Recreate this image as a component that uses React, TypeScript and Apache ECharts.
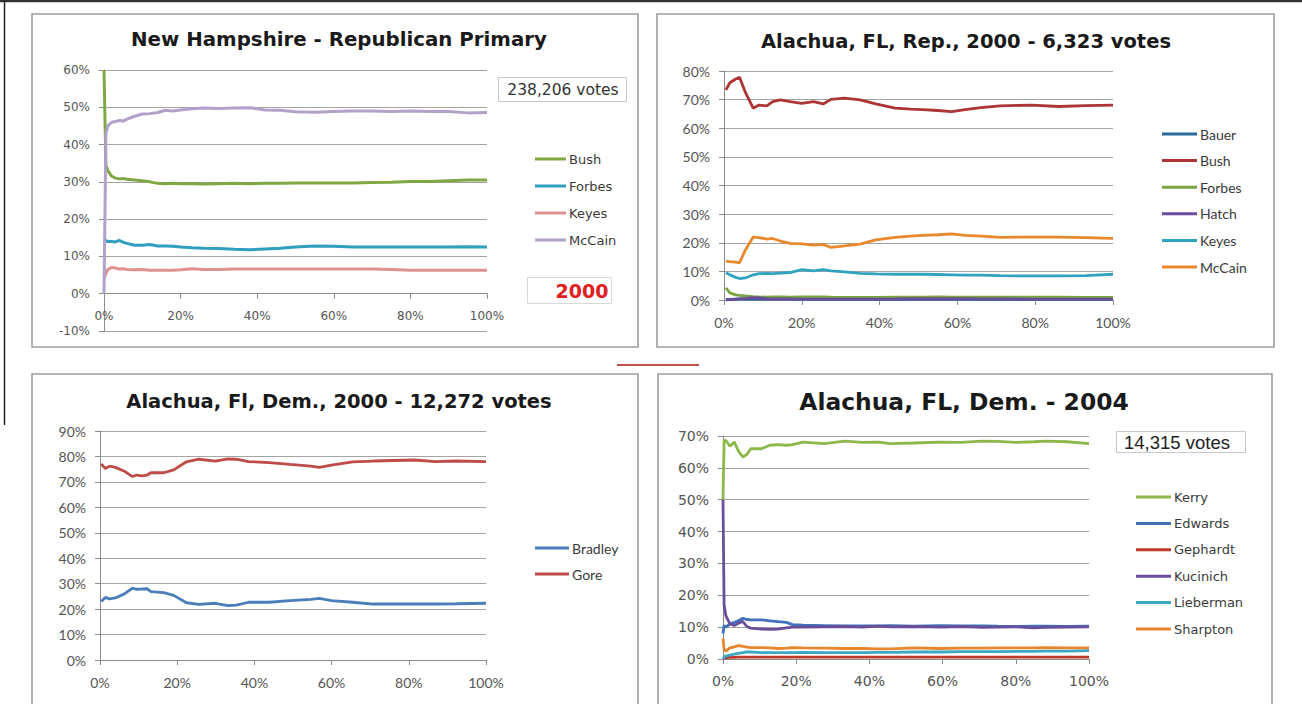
import React, { useEffect, useRef } from "react";
import * as echarts from "echarts";

// ---------- Panel 1: New Hampshire - Republican Primary (2000) ----------
const nhX = [0, 0.5, 1, 2, 3, 4, 5, 6, 8, 10, 12, 14, 16, 18, 20, 23, 26, 30, 34, 38, 42, 46, 50, 55, 60, 65, 70, 75, 80, 85, 90, 95, 100];
const nhBush = [60, 34.5, 33, 31.5, 31, 30.8, 30.9, 30.7, 30.5, 30.3, 30, 29.6, 29.5, 29.6, 29.5, 29.5, 29.4, 29.5, 29.6, 29.5, 29.6, 29.6, 29.7, 29.7, 29.7, 29.7, 29.8, 29.9, 30.1, 30.1, 30.3, 30.5, 30.5];
const nhForbes = [14.5, 14.2, 14.0, 14.0, 13.9, 14.3, 13.8, 13.5, 13.0, 13.0, 13.2, 12.8, 12.8, 12.7, 12.5, 12.3, 12.2, 12.1, 11.9, 11.8, 12.0, 12.2, 12.5, 12.8, 12.7, 12.5, 12.5, 12.5, 12.5, 12.5, 12.5, 12.6, 12.5];
const nhKeyes = [4, 5.5, 6.5, 7.0, 6.9, 6.6, 6.7, 6.5, 6.4, 6.5, 6.3, 6.3, 6.3, 6.3, 6.4, 6.7, 6.5, 6.5, 6.6, 6.6, 6.6, 6.6, 6.6, 6.6, 6.6, 6.6, 6.6, 6.5, 6.3, 6.3, 6.3, 6.3, 6.3];
const nhMcCain = [0, 43, 45, 46, 46.2, 46.5, 46.3, 46.8, 47.6, 48.2, 48.3, 48.6, 49.2, 49.0, 49.3, 49.6, 49.8, 49.7, 49.8, 49.9, 49.3, 49.2, 48.8, 48.7, 48.9, 49.0, 49.0, 48.9, 49.0, 48.9, 48.9, 48.5, 48.6];

// ---------- Panel 2: Alachua, FL, Rep., 2000 ----------
const repX = [0.5, 1.5, 3, 4, 5.5, 7.5, 9, 11, 12.5, 14.5, 17, 20, 23, 25.5, 27.5, 31, 35, 39, 44, 48, 51, 55, 58.5, 62, 66, 71, 79, 86, 93, 100];
const repBauer = [0.2, 0.2, 0.3, 0.3, 0.3, 0.3, 0.3, 0.3, 0.3, 0.3, 0.3, 0.3, 0.2, 0.2, 0.2, 0.2, 0.2, 0.2, 0.2, 0.2, 0.2, 0.2, 0.2, 0.2, 0.2, 0.2, 0.2, 0.2, 0.2, 0.2];
const repBush = [73.4, 75.9, 77.2, 77.8, 72.5, 67.0, 68.1, 67.8, 69.3, 69.9, 69.3, 68.7, 69.3, 68.5, 70.1, 70.5, 69.9, 68.5, 67.0, 66.7, 66.5, 66.2, 65.8, 66.5, 67.2, 67.8, 68.1, 67.6, 67.9, 68.1];
const repForbes = [4.2, 2.5, 1.8, 1.6, 1.4, 1.2, 1.1, 1.0, 1.1, 1.1, 1.0, 1.1, 1.1, 1.1, 1.0, 0.9, 0.9, 0.9, 1.0, 1.0, 1.0, 1.1, 1.0, 1.0, 1.0, 1.0, 1.0, 1.0, 0.9, 0.9];
const repHatch = [0, 0.1, 0.3, 0.5, 0.6, 0.8, 0.7, 0.5, 0.4, 0.4, 0.4, 0.3, 0.3, 0.3, 0.3, 0.3, 0.3, 0.3, 0.4, 0.5, 0.5, 0.5, 0.5, 0.5, 0.4, 0.4, 0.3, 0.3, 0.3, 0.3];
const repKeyes = [9.5, 8.8, 7.9, 7.5, 7.7, 8.8, 9.2, 9.3, 9.2, 9.4, 9.6, 10.6, 10.2, 10.6, 10.2, 9.8, 9.3, 9.1, 9.0, 9.0, 9.0, 8.9, 8.8, 8.7, 8.7, 8.5, 8.4, 8.4, 8.5, 9.0];
const repMcCain = [13.6, 13.4, 13.2, 13.0, 17.5, 22.0, 21.8, 21.3, 21.5, 20.6, 19.8, 19.6, 19.2, 19.4, 18.4, 18.9, 19.5, 21.0, 21.9, 22.3, 22.6, 22.8, 23.1, 22.6, 22.3, 21.9, 22.0, 22.0, 21.8, 21.5];

// ---------- Panel 3: Alachua, Fl, Dem., 2000 ----------
const demX = [0.3, 1.4, 2.5, 4, 6.2, 8.4, 9.5, 10.9, 12.2, 13.2, 16.5, 19.1, 22.4, 25.6, 29.9, 33.1, 35.3, 38.5, 43.9, 49.2, 54.6, 56.8, 60, 65.4, 70.8, 81.5, 86.9, 92.3, 100];
const demBradley = [23.0, 24.6, 24.0, 24.4, 25.9, 28.2, 27.8, 27.9, 28.0, 26.9, 26.5, 25.4, 22.5, 21.9, 22.3, 21.4, 21.6, 22.7, 22.7, 23.3, 23.8, 24.2, 23.3, 22.7, 22.0, 22.0, 22.0, 22.1, 22.3];
const demGore = [77.0, 75.3, 76.2, 75.7, 74.3, 72.1, 72.7, 72.4, 72.7, 73.6, 73.6, 74.7, 77.9, 78.9, 78.2, 79.0, 78.9, 78.0, 77.6, 76.9, 76.2, 75.7, 76.6, 77.9, 78.2, 78.6, 78.0, 78.2, 78.0];

// ---------- Panel 4: Alachua, FL, Dem. - 2004 ----------
const d04X = [0, 0.3, 0.8, 1.9, 3.1, 4.2, 5.4, 6.5, 7.6, 10.5, 12.8, 15, 17.3, 19, 21.9, 27.6, 33.3, 38, 42.4, 45.8, 52, 59.5, 65, 70.9, 75, 80, 85, 88, 94, 100];
const d04Kerry = [50, 68.5, 68.6, 66.8, 68.1, 65.3, 63.4, 64.2, 66.0, 66.0, 67.1, 67.3, 67.1, 67.3, 68.1, 67.6, 68.4, 68.0, 68.1, 67.6, 67.8, 68.1, 68.0, 68.4, 68.3, 68.0, 68.2, 68.4, 68.2, 67.6];
const d04Edwards = [8, 10.5, 10.0, 11.0, 11.5, 12.0, 12.8, 12.4, 12.3, 12.3, 12.0, 11.7, 11.5, 10.8, 10.6, 10.5, 10.4, 10.4, 10.4, 10.5, 10.3, 10.5, 10.4, 10.4, 10.3, 10.2, 10.3, 10.3, 10.2, 10.3];
const d04Gephardt = [0.2, 0.3, 0.4, 0.5, 0.5, 0.6, 0.6, 0.6, 0.6, 0.6, 0.6, 0.6, 0.6, 0.6, 0.6, 0.6, 0.6, 0.6, 0.6, 0.6, 0.6, 0.6, 0.6, 0.6, 0.6, 0.6, 0.6, 0.6, 0.6, 0.6];
const d04Kucinich = [50, 17, 13.5, 11, 10.5, 11.2, 11.8, 10.2, 9.7, 9.4, 9.3, 9.4, 9.8, 10.0, 10.0, 10.1, 10.2, 10.0, 10.3, 10.1, 10.2, 10.0, 10.2, 9.9, 10.0, 10.1, 9.8, 9.9, 10.0, 10.1];
const d04Lieberman = [0, 0.5, 1.0, 1.2, 1.5, 1.8, 2.0, 2.2, 2.2, 2.0, 2.0, 2.0, 2.0, 2.0, 2.1, 2.0, 2.0, 2.0, 2.1, 2.1, 2.2, 2.2, 2.3, 2.3, 2.3, 2.4, 2.4, 2.5, 2.5, 2.6];
const d04Sharpton = [6.5, 3.0, 2.5, 3.5, 3.8, 4.2, 4.0, 3.7, 3.6, 3.6, 3.5, 3.3, 3.4, 3.6, 3.5, 3.4, 3.3, 3.3, 3.2, 3.2, 3.5, 3.3, 3.4, 3.4, 3.5, 3.5, 3.5, 3.6, 3.5, 3.5];

const titles = [
  "New Hampshire - Republican Primary",
  "Alachua, FL, Rep., 2000 - 6,323 votes",
  "Alachua, Fl, Dem., 2000 - 12,272 votes",
  "Alachua, FL, Dem. - 2004",
];
const voteNotes = ["238,206 votes", "14,315 votes"];
const yearNote = "2000";

type S = { name: string; xs: number[]; ys: number[]; color: string };

const panels: S[][] = [
  [
    { name: "Bush", xs: nhX, ys: nhBush, color: "#7fa843" },
    { name: "Forbes", xs: nhX, ys: nhForbes, color: "#2f9ebf" },
    { name: "Keyes", xs: nhX, ys: nhKeyes, color: "#df918f" },
    { name: "McCain", xs: nhX, ys: nhMcCain, color: "#b1a1cb" },
  ],
  [
    { name: "Bauer", xs: repX, ys: repBauer, color: "#2b6a9a" },
    { name: "Bush", xs: repX, ys: repBush, color: "#ad3535" },
    { name: "Forbes", xs: repX, ys: repForbes, color: "#7aa540" },
    { name: "Hatch", xs: repX, ys: repHatch, color: "#6a4c9c" },
    { name: "Keyes", xs: repX, ys: repKeyes, color: "#31a3c1" },
    { name: "McCain", xs: repX, ys: repMcCain, color: "#e8892e" },
  ],
  [
    { name: "Bradley", xs: demX, ys: demBradley, color: "#4a7ebb" },
    { name: "Gore", xs: demX, ys: demGore, color: "#be4b48" },
  ],
  [
    { name: "Kerry", xs: d04X, ys: d04Kerry, color: "#8cb84a" },
    { name: "Edwards", xs: d04X, ys: d04Edwards, color: "#3f72b8" },
    { name: "Gephardt", xs: d04X, ys: d04Gephardt, color: "#c0392b" },
    { name: "Kucinich", xs: d04X, ys: d04Kucinich, color: "#6b4e9b" },
    { name: "Lieberman", xs: d04X, ys: d04Lieberman, color: "#3ba8c4" },
    { name: "Sharpton", xs: d04X, ys: d04Sharpton, color: "#e8862e" },
  ],
];

const yRanges = [
  [-10, 60],
  [0, 80],
  [0, 90],
  [0, 70],
];

const grids = [
  { left: 104, top: 70, width: 383, height: 261 },
  { left: 724, top: 71, width: 389, height: 229 },
  { left: 100, top: 431, width: 386, height: 229 },
  { left: 723, top: 436, width: 366, height: 223 },
];

const tickFonts = [
  { fontFamily: "DejaVu Sans", fontSize: 12 },
  { fontFamily: "Lato", fontSize: 14 },
  { fontFamily: "Lato", fontSize: 14 },
  { fontFamily: "DejaVu Sans", fontSize: 14 },
];

const legendCfg = [
  { left: 535, top: 152, itemWidth: 31, itemGap: 13, fontFamily: "DejaVu Sans", fontSize: 13 },
  { left: 1162, top: 127, itemWidth: 35, itemGap: 12.6, fontFamily: "Lato", fontSize: 14 },
  { left: 535, top: 541, itemWidth: 34, itemGap: 12, fontFamily: "Lato", fontSize: 14 },
  { left: 1136, top: 490, itemWidth: 35, itemGap: 12.4, fontFamily: "DejaVu Sans", fontSize: 13 },
];

const AXIS = "#8a8a8a";

export default function App() {
  const ref = useRef<HTMLDivElement>(null);
  useEffect(() => {
    if (!ref.current) return;
    const chart = echarts.init(ref.current, undefined, { renderer: "svg" });

    const series: any[] = [];
    panels.forEach((ps, pi) => {
      ps.forEach((s) => {
        series.push({
          type: "line",
          name: `p${pi}|${s.name}`,
          xAxisIndex: pi,
          yAxisIndex: pi,
          data: s.xs.map((x, i) => [x, s.ys[i]]),
          showSymbol: false,
          symbol: "none",
          silent: true,
          lineStyle: { color: s.color, width: pi === 0 ? 3 : 2.8 },
          itemStyle: { color: s.color },
        });
      });
    });

    // Panel 1's x axis crosses the value axis at 0% (not at the -10% bottom)
    const zeroOffset0 = (grids[0].height * (0 - yRanges[0][0])) / (yRanges[0][1] - yRanges[0][0]);

    const xAxis = grids.map((_, i) => ({
      type: "value",
      gridIndex: i,
      position: "bottom",
      offset: i === 0 ? -zeroOffset0 : 0,
      min: 0,
      max: 100,
      interval: 20,
      axisLine: { show: true, onZero: false, lineStyle: { color: AXIS, width: 1 } },
      axisTick: { show: true, length: 5, lineStyle: { color: AXIS } },
      splitLine: { show: false },
      axisLabel: {
        formatter: "{value}%",
        margin: i === 0 ? 16 : 15,
        color: "#555",
        ...tickFonts[i],
      },
    }));

    const yAxis = grids.map((_, i) => ({
      type: "value",
      gridIndex: i,
      min: yRanges[i][0],
      max: yRanges[i][1],
      interval: 10,
      axisLine: { show: true, onZero: false, lineStyle: { color: AXIS, width: 1 } },
      axisTick: { show: true, length: 5, lineStyle: { color: AXIS } },
      splitLine: { show: true, lineStyle: { color: "#a4a4a4", width: 1 } },
      axisLabel: {
        formatter: "{value}%",
        margin: 14,
        color: "#555",
        ...tickFonts[i],
      },
    }));

    const legend = panels.map((ps, pi) => ({
      orient: "vertical",
      left: legendCfg[pi].left,
      top: legendCfg[pi].top,
      itemWidth: legendCfg[pi].itemWidth,
      itemHeight: 3,
      itemGap: legendCfg[pi].itemGap,
      icon: "rect",
      selectedMode: false,
      padding: 0,
      data: ps.map((s) => `p${pi}|${s.name}`),
      formatter: (n: string) => n.split("|")[1],
      textStyle: {
        color: "#3a3a3a",
        fontFamily: legendCfg[pi].fontFamily,
        fontSize: legendCfg[pi].fontSize,
        lineHeight: 14,
        padding: [0, 0, 0, -2],
      },
    }));

    const frame = (x: number, y: number, w: number, h: number) => ({
      type: "rect",
      shape: { x, y, width: w, height: h },
      style: { fill: "none", stroke: "#9e9e9e", lineWidth: 1.6 },
      z: 0,
    });
    const titleText = (t: string, x: number, y: number, size: number) => ({
      type: "text",
      x,
      y,
      style: {
        text: t,
        fontFamily: "DejaVu Sans",
        fontWeight: "bold",
        fontSize: size,
        fill: "#1a1a1a",
        align: "center",
        verticalAlign: "middle",
      },
    });

    const graphic = [
      { type: "line", shape: { x1: 0, y1: 1, x2: 1302, y2: 1 }, style: { stroke: "#333", lineWidth: 2.5 } },
      { type: "line", shape: { x1: 4.5, y1: 0, x2: 4.5, y2: 425 }, style: { stroke: "#222", lineWidth: 1.5 } },
      frame(32, 14, 606, 333),
      frame(657, 14, 617, 333),
      frame(32, 374, 606, 340),
      frame(658, 374, 614, 340),
      { type: "line", shape: { x1: 617, y1: 365, x2: 699, y2: 365 }, style: { stroke: "#c0504d", lineWidth: 2 } },
      titleText(titles[0], 339, 39, 19.8),
      titleText(titles[1], 966, 41, 19.5),
      titleText(titles[2], 339, 401, 19.5),
      titleText(titles[3], 964, 402, 23.4),
      // votes box panel 1
      {
        type: "rect",
        shape: { x: 498.5, y: 77.5, width: 128, height: 24 },
        style: { fill: "#fff", stroke: "#c8c8c8", lineWidth: 1 },
      },
      {
        type: "text",
        x: 563,
        y: 89.5,
        style: { text: voteNotes[0], fontFamily: "DejaVu Sans", fontSize: 15.5, fill: "#333", align: "center", verticalAlign: "middle" },
      },
      // year box panel 1
      {
        type: "rect",
        shape: { x: 527.5, y: 277.5, width: 84, height: 26 },
        style: { fill: "#fff", stroke: "#d8d8d8", lineWidth: 1 },
      },
      {
        type: "text",
        x: 582,
        y: 290.5,
        style: { text: yearNote, fontFamily: "DejaVu Sans", fontWeight: "bold", fontSize: 19, fill: "#e0201e", align: "center", verticalAlign: "middle" },
      },
      // votes box panel 4
      {
        type: "rect",
        shape: { x: 1116.5, y: 431.5, width: 129, height: 21 },
        style: { fill: "#fff", stroke: "#c8c8c8", lineWidth: 1 },
      },
      {
        type: "text",
        x: 1177,
        y: 442,
        style: { text: voteNotes[1], fontFamily: "Liberation Sans", fontSize: 18.5, fill: "#222", align: "center", verticalAlign: "middle" },
      },
    ];

    chart.setOption({
      animation: false,
      backgroundColor: "#ffffff",
      grid: grids.map((g) => ({ ...g, containLabel: false })),
      xAxis,
      yAxis,
      legend,
      series,
      graphic,
    });
    return () => chart.dispose();
  }, []);

  return (
    <div
      ref={ref}
      style={{ position: "absolute", left: 0, top: 0, width: 1302, height: 704, background: "#fff" }}
    />
  );
}
